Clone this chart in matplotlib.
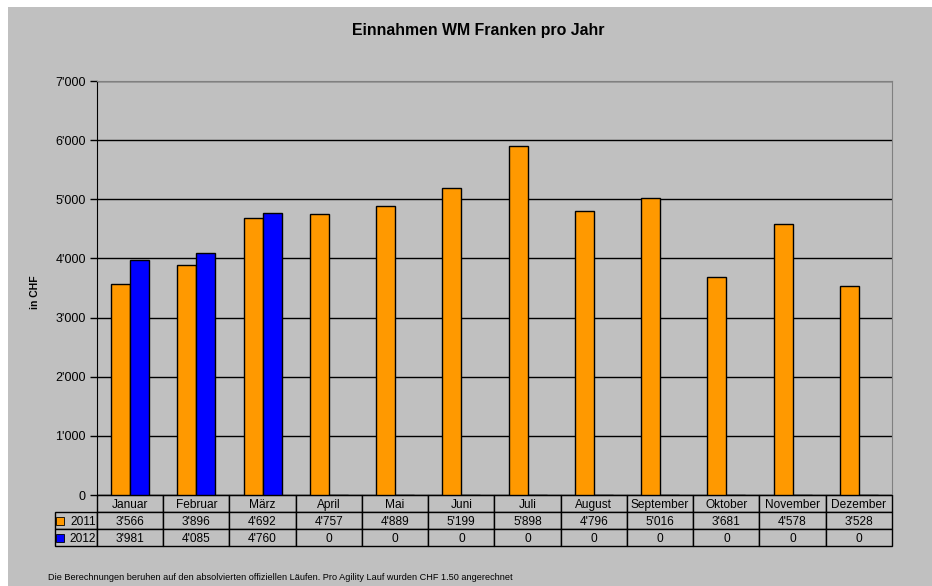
import matplotlib
matplotlib.use("Agg")
import matplotlib.pyplot as plt
from matplotlib.patches import Rectangle
import numpy as np

plt.rcParams['font.family'] = ['Liberation Sans', 'DejaVu Sans']

months = ["Januar", "Februar", "März", "April", "Mai", "Juni", "Juli",
          "August", "September", "Oktober", "November", "Dezember"]
series_names = ["2011", "2012"]
values_2011 = [3566, 3896, 4692, 4757, 4889, 5199, 5898, 4796, 5016, 3681, 4578, 3528]
values_2012 = [3981, 4085, 4760, 0, 0, 0, 0, 0, 0, 0, 0, 0]
colors = ["#FF9900", "#0000FF"]
yticks = [0, 1000, 2000, 3000, 4000, 5000, 6000, 7000]

title = "Einnahmen WM Franken pro Jahr"
ylabel = "in CHF"
footnote = ("Die Berechnungen beruhen auf den absolvierten offiziellen Läufen. "
            "Pro Agility Lauf wurden CHF 1.50 angerechnet")


def fmt(v):
    return f"{v:,}".replace(",", "'")


W, H = 932, 586
fig = plt.figure(figsize=(W / 100, H / 100), dpi=100, facecolor="white")
fig.patches.append(Rectangle((8 / W, 0), 1 - 8 / W, 1 - 7 / H,
                             transform=fig.transFigure, facecolor="#C0C0C0",
                             edgecolor="none", zorder=-10))

ax = fig.add_axes([97 / W, (H - 495) / H, 795 / W, 414 / H])
ax.set_facecolor("#C0C0C0")

x = np.arange(len(months))
bw = 0.287
ax.bar(x - bw / 2, values_2011, width=bw, color=colors[0], edgecolor="black",
       linewidth=1, zorder=3)
ax.bar(x + bw / 2, values_2012, width=bw, color=colors[1], edgecolor="black",
       linewidth=1, zorder=3)

ax.set_xlim(-0.5, len(months) - 0.5)
ax.set_ylim(0, 7000)
ax.set_yticks(yticks)
ax.set_yticklabels([fmt(v) for v in yticks], fontsize=9)
ax.set_xticks([])
ax.tick_params(axis="y", length=5, width=1, color="black", pad=3)
ax.yaxis.grid(True, color="black", linewidth=1)
ax.set_axisbelow(True)
for s in ["top", "right"]:
    ax.spines[s].set_color("#808080")
ax.spines["left"].set_color("black")
ax.spines["bottom"].set_color("black")

# data table
rows_px = 51 / 414
lbl_w = 42 / 795
cell_text = [[""] + months,
             [series_names[0]] + [fmt(v) for v in values_2011],
             [series_names[1]] + [fmt(v) for v in values_2012]]
col_w = [lbl_w] + [1 / 12] * 12
tbl = ax.table(cellText=cell_text, colWidths=col_w, cellLoc="center",
               bbox=[-lbl_w, -rows_px, 1 + lbl_w, rows_px])
tbl.auto_set_font_size(False)
tbl.set_fontsize(8.6)
for (r, c), cell in tbl.get_celld().items():
    cell.set_facecolor("#C0C0C0")
    cell.set_edgecolor("black")
    cell.set_linewidth(1)
    cell.get_text().set_va("center_baseline")
    if r == 0 and c == 0:
        cell.visible_edges = ""
    if c == 0 and r > 0:
        cell.get_text().set_ha("right")
        cell.PAD = 0.03

# legend keys in the table
for i, col in enumerate(colors):
    yk = -(17 * (i + 1) + 8.5) / 414
    ax.plot([-37 / 795], [yk], marker="s", markersize=5.5, color=col,
            markeredgecolor="black", markeredgewidth=0.6,
            transform=ax.transAxes, clip_on=False, zorder=5)

fig.text(478 / W, 1 - 31 / H, title, ha="center", va="center",
         fontsize=11.4, fontweight="bold")
fig.text(35 / W, 1 - 292 / H, ylabel, ha="center", va="center",
         rotation=90, fontsize=7.5, fontweight="bold")
fig.text(48 / W, 1 - 578 / H, footnote, ha="left", va="center", fontsize=6.6)

fig.savefig("out.png", dpi=100, facecolor=fig.get_facecolor())
